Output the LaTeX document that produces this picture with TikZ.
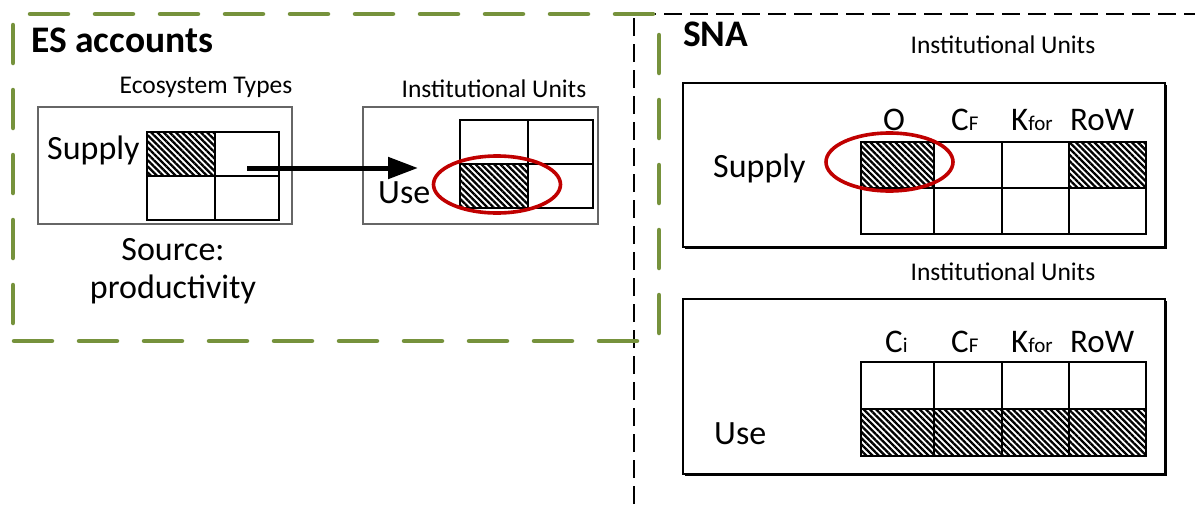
\documentclass[tikz,border=0pt]{standalone}
\usepackage{fontspec}
\setmainfont{Carlito}
\usetikzlibrary{arrows.meta,patterns.meta}
\definecolor{olive}{RGB}{118,146,60}
\definecolor{ringred}{RGB}{192,0,0}
\newcommand{\lo}[1]{{\fontsize{21}{24}\selectfont #1}}
\tikzset{
  lbl/.style={inner sep=0pt, anchor=base west, font=\fontsize{34}{40}\selectfont},
  hdr/.style={inner sep=0pt, anchor=base west, font=\fontsize{33}{38}\selectfont},
  heading/.style={inner sep=0pt, anchor=base, font=\fontsize{25.5}{30}\selectfont},
  title/.style={inner sep=0pt, anchor=base west, font=\bfseries\fontsize{37.5}{44}\selectfont},
  esbox/.style={draw=black!60, line width=1.3pt},
  snabox/.style={draw, line width=2pt, fill=white},
  cell/.style={draw, line width=2pt},
  hatch/.style={pattern={Lines[angle=-45,distance=4.4pt,line width=2.3pt]}},
  ring/.style={draw=ringred, line width=3.6pt},
  greendash/.style={draw=olive, line width=4.5pt, line cap=round, dash pattern=on 38pt off 27pt},
  blackdash/.style={draw=black, line width=2.5pt, dash pattern=on 18pt off 8pt},
  flow/.style={line width=5pt, -{Triangle[length=30pt,width=21pt]}},
}
\begin{document}
\begin{tikzpicture}[x=1pt,y=-1pt]
\useasboundingbox (0,0) rectangle (1195,504);

% SNA frame (black, dashed)
\draw[blackdash] (634,504) -- (634,14) -- (1195,14);

% ES accounts frame (green, dashed), one side at a time
\draw[greendash, dash phase=47pt] (12,14) -- (659,14);
\draw[greendash, dash phase=54pt] (13,14) -- (13,341);
\draw[greendash, dash phase=63pt] (12,341) -- (659,341);
\draw[greendash, dash phase=44pt] (659,14) -- (659,341);

% ---------- ES accounts ----------
\node[title] (estitle) at (31,52) {ES accounts};

% supply table by ecosystem type
\node[heading] (ecotypes) at (206,93) {Ecosystem Types};
\draw[esbox] (38,107) rectangle (292,224);
\node[lbl] (essupply) at (47,159) {Supply};
\fill[white] (147,132) rectangle (279,220);
\fill[hatch] (147,132) rectangle (215,176);
\draw[cell] (147,132) rectangle (279,220);
\draw[cell] (215,132) -- (215,220);
\draw[cell] (147,176) -- (279,176);
\node[lbl, anchor=base] (source) at (173,260) {Source:};
\node[lbl, anchor=base] (prod) at (173,298) {productivity};

% use table by institutional unit
\node[heading] (esunits) at (494,97) {Institutional Units};
\draw[esbox] (363,107) rectangle (598,224);
\node[lbl] (esuse) at (378,203) {Use};
\fill[hatch] (460,164) rectangle (528,208);
\draw[cell] (460,120) rectangle (593,208);
\draw[cell] (528,120) -- (528,208);
\draw[cell] (460,164) -- (593,164);
\draw[ring] (497,184.5) ellipse [x radius=63.5, y radius=28.5];

% supply flows into use
\coordinate (flowstart) at (247,168);
\coordinate (flowend) at (418,168);
\draw[flow] (flowstart) -- (flowend);

% ---------- SNA ----------
\node[title] (snatitle) at (683,46) {SNA};

% supply table
\node[heading] (snaunitsA) at (1003,53) {Institutional Units};
\fill[black] (685,85) rectangle (1167,249);
\draw[snabox] (683,83) rectangle (1165,247);
\node[lbl] (snasupply) at (713,177) {Supply};
\node[hdr] (hO) at (883,130) {O};
\node[hdr] (hCFa) at (951,130) {C\lo{F}};
\node[hdr] (hKa) at (1011,130) {K\lo{for}};
\node[hdr] (hRa) at (1070,130) {RoW};
\fill[hatch] (861,142) rectangle (934,188);
\fill[hatch] (1069,142) rectangle (1146,188);
\draw[cell] (861,142) rectangle (1146,234);
\draw[cell] (861,188) -- (1146,188);
\foreach \x in {934,1002,1069} \draw[cell] (\x,142) -- (\x,234);
\draw[ring] (889.5,162) ellipse [x radius=63.5, y radius=29];

% use table
\node[heading] (snaunitsB) at (1003,280) {Institutional Units};
\fill[black] (685,301) rectangle (1167,476);
\draw[snabox] (683,299) rectangle (1165,474);
\node[lbl] (snause) at (714,444) {Use};
\node[hdr] (hCi) at (885,352) {C\lo{i}};
\node[hdr] (hCFb) at (951,352) {C\lo{F}};
\node[hdr] (hKb) at (1011,352) {K\lo{for}};
\node[hdr] (hRb) at (1070,352) {RoW};
\fill[hatch] (861,409) rectangle (1146,456);
\draw[cell] (861,362) rectangle (1146,456);
\draw[cell] (861,409) -- (1146,409);
\foreach \x in {934,1002,1069} \draw[cell] (\x,362) -- (\x,456);
\end{tikzpicture}
\end{document}
